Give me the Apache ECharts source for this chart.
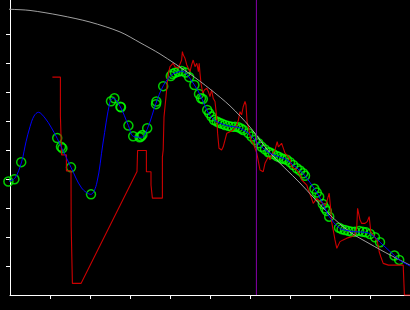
<!DOCTYPE html>
<html>
<head>
<meta charset="utf-8">
<script src="https://cdn.jsdelivr.net/npm/echarts@6/dist/echarts.min.js"></script>
<style>html,body{margin:0;padding:0;background:#000;}#c{width:410px;height:310px;}</style>
</head>
<body>
<div id="c"></div>
<script>
// Axis ticks
var xTicks = [1, 2, 3, 4, 5, 6, 7, 8, 9];
var yTicks = [1, 2, 3, 4, 5, 6, 7, 8, 9];

// Gray reference curve
var grayX = [-0.25, 0, 0.5, 1.25, 2, 2.75, 3.25, 3.75, 4.5, 5, 5.5, 6, 6.5, 7.25, 8, 8.5, 9, 9.5, 10];
var grayY = [9.86, 9.85, 9.81, 9.64, 9.41, 9.07, 8.70, 8.31, 7.62, 7.10, 6.52, 5.79, 4.90, 3.86, 2.76, 2.17, 1.76, 1.38, 1.03];

// Blue fitted curve
var blueX = [-0.04, 0.125, 0.29, 0.4, 0.5, 0.6, 0.71, 0.875, 1.025, 1.18, 1.29, 1.525, 1.79, 2.02, 2.17, 2.325, 2.5, 2.58, 2.75, 2.96, 3.08, 3.29, 3.44, 3.65, 3.83, 4.04, 4.21, 4.30, 4.4, 4.61, 4.75, 4.92, 5.05, 5.225, 5.45, 5.7, 5.83, 5.96, 6.125, 6.29, 6.46, 6.67, 6.92, 7.08, 7.25, 7.375, 7.61, 7.73, 7.875, 7.98, 8.225, 8.375, 8.625, 8.9, 9.125, 9.25, 9.61, 9.73, 10];
var blueY = [3.91, 4.03, 4.59, 5.28, 5.80, 6.17, 6.30, 6.10, 5.79, 5.40, 5.08, 4.40, 3.69, 3.47, 3.86, 5.24, 6.67, 6.78, 6.51, 5.84, 5.47, 5.44, 5.75, 6.61, 7.21, 7.59, 7.69, 7.72, 7.64, 7.24, 6.91, 6.38, 6.10, 5.94, 5.83, 5.78, 5.69, 5.58, 5.34, 5.11, 4.92, 4.79, 4.66, 4.48, 4.29, 4.11, 3.66, 3.39, 2.99, 2.70, 2.32, 2.24, 2.18, 2.16, 1.99, 1.82, 1.36, 1.21, 1.0];

// Green sample points
var ptX = [-0.04, 0.11, 0.28, 1.18, 1.275, 1.31, 1.525, 2.025, 2.525, 2.61, 2.76, 2.775, 2.96, 3.08, 3.24, 3.275, 3.31, 3.43, 3.65, 3.66, 3.83, 4.02, 4.06, 4.125, 4.21, 4.29, 4.39, 4.48, 4.61, 4.725, 4.775, 4.82, 4.93, 4.98, 5.04, 5.1, 5.17, 5.23, 5.3, 5.375, 5.46, 5.54, 5.625, 5.71, 5.775, 5.83, 5.96, 6.04, 6.125, 6.21, 6.29, 6.375, 6.46, 6.5, 6.575, 6.67, 6.725, 6.79, 6.85, 6.92, 7.0, 7.08, 7.17, 7.25, 7.33, 7.375, 7.61, 7.67, 7.73, 7.82, 7.875, 7.92, 7.98, 8.225, 8.29, 8.375, 8.46, 8.54, 8.625, 8.73, 8.82, 8.9, 9.0, 9.125, 9.25, 9.61, 9.73];
var ptY = [3.91, 3.99, 4.58, 5.41, 5.11, 5.06, 4.40, 3.47, 6.68, 6.78, 6.49, 6.47, 5.84, 5.47, 5.44, 5.46, 5.52, 5.75, 6.58, 6.67, 7.20, 7.55, 7.62, 7.66, 7.70, 7.72, 7.67, 7.51, 7.24, 6.93, 6.78, 6.76, 6.38, 6.27, 6.15, 6.03, 5.98, 5.94, 5.90, 5.86, 5.83, 5.80, 5.80, 5.78, 5.74, 5.69, 5.58, 5.46, 5.34, 5.23, 5.11, 5.02, 4.92, 4.91, 4.86, 4.79, 4.76, 4.71, 4.69, 4.66, 4.58, 4.48, 4.37, 4.29, 4.20, 4.11, 3.66, 3.53, 3.39, 3.14, 2.99, 2.90, 2.70, 2.32, 2.27, 2.24, 2.21, 2.18, 2.18, 2.21, 2.18, 2.16, 2.10, 1.99, 1.82, 1.36, 1.21];

// Red raw signal
var redX = [1.06, 1.26, 1.26, 1.29, 1.29, 1.41, 1.41, 1.525, 1.53, 1.56, 1.56, 1.775, 3.175, 3.19, 3.41, 3.41, 3.525, 3.525, 3.56, 3.56, 3.81, 3.81, 3.83, 3.85, 3.875, 3.9, 3.93, 3.96, 4.0, 4.04, 4.08, 4.125, 4.17, 4.21, 4.25, 4.29, 4.31, 4.33, 4.375, 4.42, 4.46, 4.5, 4.54, 4.58, 4.625, 4.67, 4.71, 4.73, 4.75, 4.775, 4.82, 4.86, 4.92, 4.96, 5.0, 5.04, 5.08, 5.125, 5.17, 5.19, 5.225, 5.29, 5.33, 5.375, 5.42, 5.5, 5.58, 5.65, 5.71, 5.75, 5.79, 5.83, 5.875, 5.9, 5.93, 5.96, 6.02, 6.08, 6.17, 6.25, 6.33, 6.375, 6.42, 6.46, 6.5, 6.54, 6.625, 6.68, 6.71, 6.79, 6.83, 6.875, 6.96, 7.0, 7.04, 7.08, 7.17, 7.25, 7.29, 7.33, 7.42, 7.46, 7.5, 7.54, 7.58, 7.67, 7.75, 7.82, 7.875, 7.92, 7.96, 7.98, 8.02, 8.04, 8.08, 8.125, 8.17, 8.21, 8.25, 8.33, 8.42, 8.54, 8.625, 8.67, 8.69, 8.73, 8.75, 8.79, 8.875, 8.93, 8.98, 9.02, 9.08, 9.17, 9.21, 9.23, 9.27, 9.33, 9.46, 9.83, 9.86, 10];
var redY = [7.51, 7.51, 6.17, 6.17, 4.83, 4.83, 4.28, 4.28, 2.36, 2.36, 0.40, 0.40, 4.26, 4.98, 4.98, 4.25, 4.25, 3.79, 3.79, 3.34, 3.34, 4.76, 5.0, 6.14, 6.49, 6.84, 7.30, 7.64, 7.87, 7.82, 7.99, 7.87, 7.93, 7.82, 7.87, 8.10, 8.39, 8.28, 8.16, 7.93, 7.99, 7.70, 7.93, 8.10, 7.87, 7.99, 7.70, 7.99, 7.64, 7.30, 6.96, 7.07, 7.13, 7.01, 6.84, 7.07, 6.78, 6.67, 6.09, 5.58, 5.06, 5.0, 5.11, 5.34, 5.58, 5.63, 5.69, 5.80, 6.03, 6.32, 6.21, 6.49, 6.67, 6.55, 5.92, 5.80, 5.34, 5.23, 4.89, 4.31, 4.25, 4.54, 4.66, 4.77, 4.66, 4.83, 5.0, 5.29, 5.11, 5.23, 5.07, 4.89, 4.77, 4.66, 4.42, 4.37, 4.31, 4.14, 3.97, 3.91, 3.79, 3.62, 3.56, 3.33, 3.16, 3.33, 3.22, 3.16, 3.07, 3.22, 3.28, 3.51, 2.93, 2.53, 2.24, 1.90, 1.61, 1.67, 1.84, 1.90, 1.96, 2.01, 2.07, 2.36, 2.99, 2.99, 2.59, 2.47, 2.47, 2.53, 2.70, 2.18, 2.07, 1.90, 1.67, 1.49, 1.32, 1.09, 1.03, 1.03, 0, 0];

// Vertical marker position
var markerX = 6.16;

function pairs(xs, ys) { return xs.map(function (x, i) { return [x, ys[i]]; }); }

var yMax = 10.17;
var chart = echarts.init(document.getElementById('c'), null, { renderer: 'canvas' });
chart.setOption({
  backgroundColor: '#000000',
  animation: false,
  grid: { left: 10, right: 0, top: 0, bottom: 15 },
  xAxis: {
    type: 'value', min: 0, max: 10, interval: 1,
    axisLine: { show: true, lineStyle: { color: '#ffffff', width: 1 } },
    axisTick: { show: true, length: 4, customValues: xTicks, lineStyle: { color: '#ffffff' } },
    axisLabel: { show: false },
    splitLine: { show: false }
  },
  yAxis: {
    type: 'value', min: 0, max: yMax, interval: 1,
    axisLine: { show: true, lineStyle: { color: '#ffffff', width: 1 } },
    axisTick: { show: true, length: 4, customValues: yTicks, lineStyle: { color: '#ffffff' } },
    axisLabel: { show: false },
    splitLine: { show: false }
  },
  series: [
    { type: 'line', data: pairs(redX, redY), showSymbol: false, clip: false,
      lineStyle: { color: '#cc0000', width: 1.1 } },
    { type: 'line', data: pairs(grayX, grayY), showSymbol: false, clip: false, smooth: 0.3,
      lineStyle: { color: '#a0a0a0', width: 1 } },
    { type: 'line', data: pairs(blueX, blueY), showSymbol: false, clip: false, smooth: 0.35,
      lineStyle: { color: '#0000ff', width: 1 } },
    { type: 'scatter', data: pairs(ptX, ptY), symbol: 'circle', symbolSize: 9, clip: false,
      itemStyle: { color: 'rgba(0,0,0,0)', borderColor: '#00ff00', borderWidth: 1.5 } },
    { type: 'line', data: [[markerX, 0], [markerX, yMax]], showSymbol: false,
      lineStyle: { color: '#8800aa', width: 1 } }
  ]
});
</script>
</body>
</html>
